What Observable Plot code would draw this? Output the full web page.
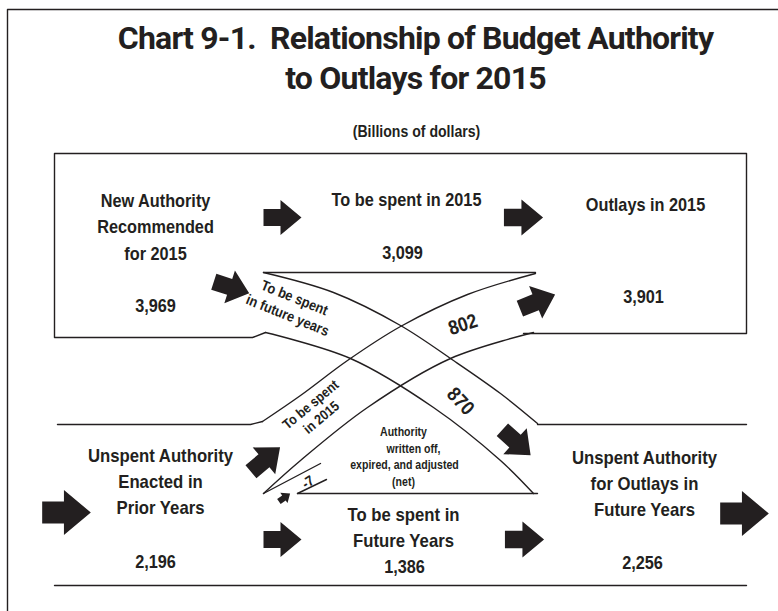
<!DOCTYPE html>
<html>
<head>
<meta charset="utf-8">
<script src="https://cdn.jsdelivr.net/npm/d3@7"></script>
<script src="https://cdn.jsdelivr.net/npm/@observablehq/plot@0.6"></script>
<style>
  html, body { margin: 0; padding: 0; background: #fff; }
</style>
</head>
<body>
<div id="chart"></div>
<script>
// ---------------- DATA ----------------
const titleLines = ["Chart 9-1.  Relationship of Budget Authority", "to Outlays for 2015"];
const subtitle = "(Billions of dollars)";

const nodeNames = [
  "New Authority\nRecommended\nfor 2015",
  "To be spent in 2015",
  "Outlays in 2015",
  "Unspent Authority\nEnacted in\nPrior Years",
  "To be spent in\nFuture Years",
  "Unspent Authority\nfor Outlays in\nFuture Years"
];
const nodeValues = [3969, 3099, 3901, 2196, 1386, 2256];

const flowNames = ["802", "870", "-7"];
const flowValues = [802, 870, -7];

const bandNames = ["To be spent\nin future years", "To be spent\nin 2015"];
const writeOffLines = ["Authority", "written off,", "expired, and adjusted", "(net)"];

// ---------------- LAYOUT (diagram positions, px) ----------------
const W = 778, H = 611;
const font = "'Liberation Sans', Arial, Helvetica, sans-serif";
const titleFont = "Roboto, 'Liberation Sans', Arial, sans-serif";
const ink = "#231f20";
const squeeze = 0.88; // horizontal compression to mimic a condensed face

// node label placement: x center, first baseline, line step, value baseline, font size
const nodeLayout = [
  {x: 155, y: 206, step: 26.5, vx: 155, vy: 311, fs: 18.5},
  {x: 406, y: 205, step: 26,   vx: 402, vy: 258, fs: 18.5},
  {x: 645, y: 210, step: 26,   vx: 643, vy: 302, fs: 18.5},
  {x: 160, y: 461, step: 26,   vx: 155, vy: 567, fs: 19},
  {x: 403, y: 520, step: 26,   vx: 404, vy: 572, fs: 19},
  {x: 644, y: 463, step: 26,   vx: 642, vy: 568, fs: 19}
];

const flowLayout = [
  {x: 462, y: 323, rotate: -18, fs: 20},
  {x: 461, y: 400, rotate: 47, fs: 20},
  {x: 307, y: 481, rotate: -32, fs: 14.5}
];
const bandLayout = [
  {x: 291, y: 305, rotate: 22, fs: 14.5, lh: 1.3},
  {x: 315, y: 410, rotate: -40, fs: 14, lh: 1.2}
];
const writeOffLayout = [
  {x: 403, y: 435}, {x: 413, y: 452}, {x: 404, y: 468}, {x: 403, y: 485}
];

// straight rules of the diagram
const rules = [
  [[7, 611], [7, 9], [778, 9]],
  [[265, 332], [252, 337], [54, 337], [54, 153], [746, 153], [746, 333], [523, 333]],
  [[263, 272], [535, 272]],
  [[57, 424], [250, 424], [262, 421]],
  [[537, 424], [746, 424]],
  [[54, 585], [746, 585]],
  [[297, 493], [537, 493]],
  [[263, 493], [320, 463]],
  [[297, 493], [326, 479]]
];
// curved band edges
const curves = [
  [[263, 272], [333, 292], [400, 325], [453, 360], [500, 393], [537, 423]],   // future years, upper
  [[265, 332], [350, 358], [433, 407], [500, 460], [533, 493]],               // future years, lower
  [[262, 421], [300, 395], [347, 360], [400, 326], [467, 294], [535, 273]],   // 2015, upper
  [[263, 493], [300, 460], [367, 407], [450, 358], [533, 332]]                // 2015, lower
];

// block arrows: center, angle (deg), scale
const arrows = [
  {x: 282, y: 217, a: 0, s: 1},
  {x: 523, y: 217, a: 0, s: 1.03},
  {x: 231, y: 287, a: 18, s: 0.98},
  {x: 537, y: 301, a: -22, s: 1},
  {x: 265, y: 459, a: -40, s: 1},
  {x: 284, y: 497, a: -35, s: 0.36},
  {x: 516, y: 442, a: 42, s: 1},
  {x: 282, y: 539, a: 0, s: 1},
  {x: 524, y: 539, a: 0, s: 1.03},
  {x: 66, y: 512, a: 0, s: 1.28},
  {x: 744, y: 513, a: 0, s: 1.28}
];
const arrowShape = [[-19, -8.5], [-2, -8.5], [-2, -17.5], [19, 0], [-2, 17.5], [-2, 8.5], [-19, 8.5]];

// ---------------- BUILD TABLES ----------------
const fmt = d3.format(",");

const titleRows = titleLines.map((t, i) => ({x: 415, y: 48 + i * 40, text: t}));

const textRows = [];
textRows.push({x: 416, y: 136, text: subtitle, fs: 16});
nodeNames.forEach((name, i) => {
  const L = nodeLayout[i];
  name.split("\n").forEach((line, j) => textRows.push({x: L.x, y: L.y + j * L.step, text: line, fs: L.fs}));
  textRows.push({x: L.vx, y: L.vy, text: fmt(nodeValues[i]), fs: 18.5});
});
writeOffLines.forEach((t, i) => textRows.push({x: writeOffLayout[i].x, y: writeOffLayout[i].y, text: t, fs: 12}));

const rotRows = [];
flowValues.forEach((v, i) => rotRows.push({lh: 1.2, ...flowLayout[i], text: String(v)}));
bandNames.forEach((t, i) => rotRows.push({...bandLayout[i], text: t}));

const rulePts = rules.flatMap((r, id) => r.map(([x, y]) => ({x, y, id})));
const curvePts = curves.flatMap((r, id) => r.map(([x, y]) => ({x, y, id})));
const arrowPts = arrows.flatMap((A, id) => {
  const t = A.a * Math.PI / 180, c = Math.cos(t), s = Math.sin(t);
  return arrowShape.map(([px, py]) => ({
    id,
    x: A.x + A.s * (px * c - py * s),
    y: A.y + A.s * (px * s + py * c)
  }));
});

// ---------------- PLOT ----------------
const chart = Plot.plot({
  width: W,
  height: H,
  margin: 0,
  x: {domain: [0, W], range: [0, W], axis: null},
  y: {domain: [0, H], range: [0, H], axis: null},
  style: {background: "#fff"},
  marks: [
    Plot.line(rulePts, {x: "x", y: "y", z: "id", stroke: ink, strokeWidth: 1.4, curve: "linear"}),
    Plot.line(curvePts, {x: "x", y: "y", z: "id", stroke: ink, strokeWidth: 1.4, curve: "catmull-rom"}),
    Plot.line(arrowPts, {x: "x", y: "y", z: "id", fill: ink, stroke: null, curve: "linear-closed"}),
    Plot.text(titleRows, {
      x: "x", y: "y", text: "text", fontSize: 32,
      fontFamily: titleFont, fontWeight: "bold", fill: ink, lineAnchor: "bottom", textAnchor: "middle"
    }),
    Plot.text(textRows, {
      x: "x", y: "y", text: "text", fontSize: d => d.fs,
      fontFamily: font, fontWeight: "bold", fill: ink, lineAnchor: "bottom", textAnchor: "middle"
    }),
    ...rotRows.map(r => Plot.text([r], {
      x: "x", y: "y", text: "text", fontSize: r.fs, rotate: r.rotate, lineHeight: r.lh,
      fontFamily: font, fontWeight: "bold", fill: ink, lineAnchor: "middle", textAnchor: "middle"
    }))
  ]
});
document.getElementById("chart").appendChild(chart);

// condense the glyphs horizontally (the original uses a condensed sans); the title is tightened instead
chart.querySelectorAll("text").forEach(t => {
  if (titleLines.includes(t.textContent)) {
    t.style.letterSpacing = "-0.8px";
    return;
  }
  const spans = t.querySelectorAll("tspan");
  const targets = spans.length ? Array.from(spans) : [t];
  targets.forEach(el => {
    const w = el.getComputedTextLength();
    if (w > 0) {
      el.setAttribute("textLength", (w * squeeze).toFixed(2));
      el.setAttribute("lengthAdjust", "spacingAndGlyphs");
    }
  });
});
</script>
</body>
</html>
